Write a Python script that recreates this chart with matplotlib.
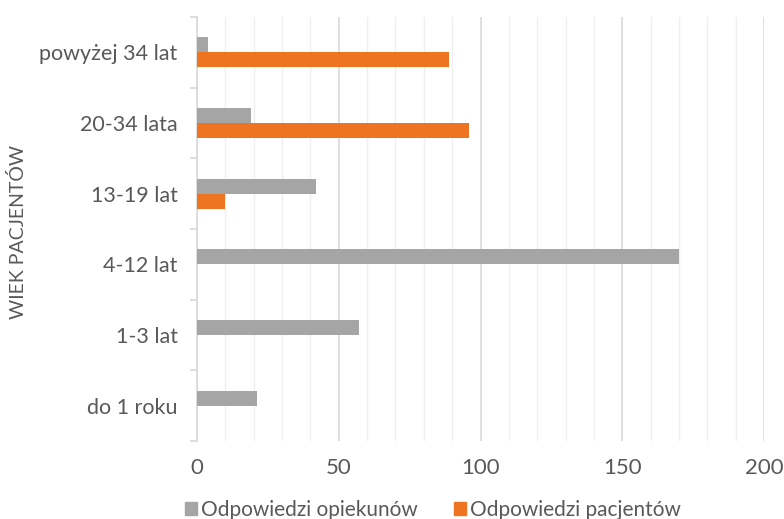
import matplotlib.pyplot as plt
from matplotlib.patches import Patch
from matplotlib.ticker import MultipleLocator

categories = ['do 1 roku', '1-3 lat', '4-12 lat', '13-19 lat', '20-34 lata', 'powyżej 34 lat']
opiekunow = [21, 57, 170, 42, 19, 4]
pacjentow = [0, 0, 0, 10, 96, 89]

grey = '#A5A5A5'
orange = '#EE7421'
txt = '#595959'

plt.rcParams['font.family'] = ['Lato', 'DejaVu Sans']

fig = plt.figure(figsize=(7.84, 5.19), dpi=100)
ax = fig.add_axes([197 / 784, 1 - 441 / 519, (764 - 197) / 784, (441 - 17) / 519])

h = 0.21
y = list(range(len(categories)))
ax.barh([v + h / 2 for v in y], opiekunow, height=h, color=grey, zorder=3)
ax.barh([v - h / 2 for v in y], pacjentow, height=h, color=orange, zorder=3)

ax.set_xlim(0, 200)
ax.set_ylim(-0.5, len(categories) - 0.5)
ax.xaxis.set_major_locator(MultipleLocator(50))
ax.xaxis.set_minor_locator(MultipleLocator(10))
ax.grid(axis='x', which='minor', color='#EFEFEF', lw=1, zorder=0)
ax.grid(axis='x', which='major', color='#D9D9D9', lw=1.2, zorder=1)
ax.tick_params(axis='x', which='both', length=0, labelsize=16, colors=txt, pad=12)

ax.set_yticks(y)
ax.set_yticklabels(categories)
ax.set_yticks([v - 0.5 for v in range(len(categories) + 1)], minor=True)
ax.tick_params(axis='y', which='major', length=0, labelsize=15.5, colors=txt, pad=14)
ax.tick_params(axis='y', which='minor', length=5, color='#D9D9D9', width=1.2)

for s in ['top', 'right', 'bottom']:
    ax.spines[s].set_visible(False)
ax.spines['left'].set_color('#D9D9D9')
ax.spines['left'].set_linewidth(1.2)

fig.text(18 / 784, 1 - 232 / 519, 'WIEK PACJENTÓW', rotation=90, ha='center', va='center',
         fontsize=14, color=txt)

handles = [Patch(color=grey, label='Odpowiedzi opiekunów'),
           Patch(color=orange, label='Odpowiedzi pacjentów')]
fig.legend(handles=handles, loc='center', bbox_to_anchor=(433 / 784, 1 - 510 / 519), ncol=2,
           frameon=False, fontsize=15, labelcolor=txt, handlelength=0.6, handleheight=0.6,
           handletextpad=0.2, columnspacing=1.7)

fig.savefig('out.png', dpi=100)
